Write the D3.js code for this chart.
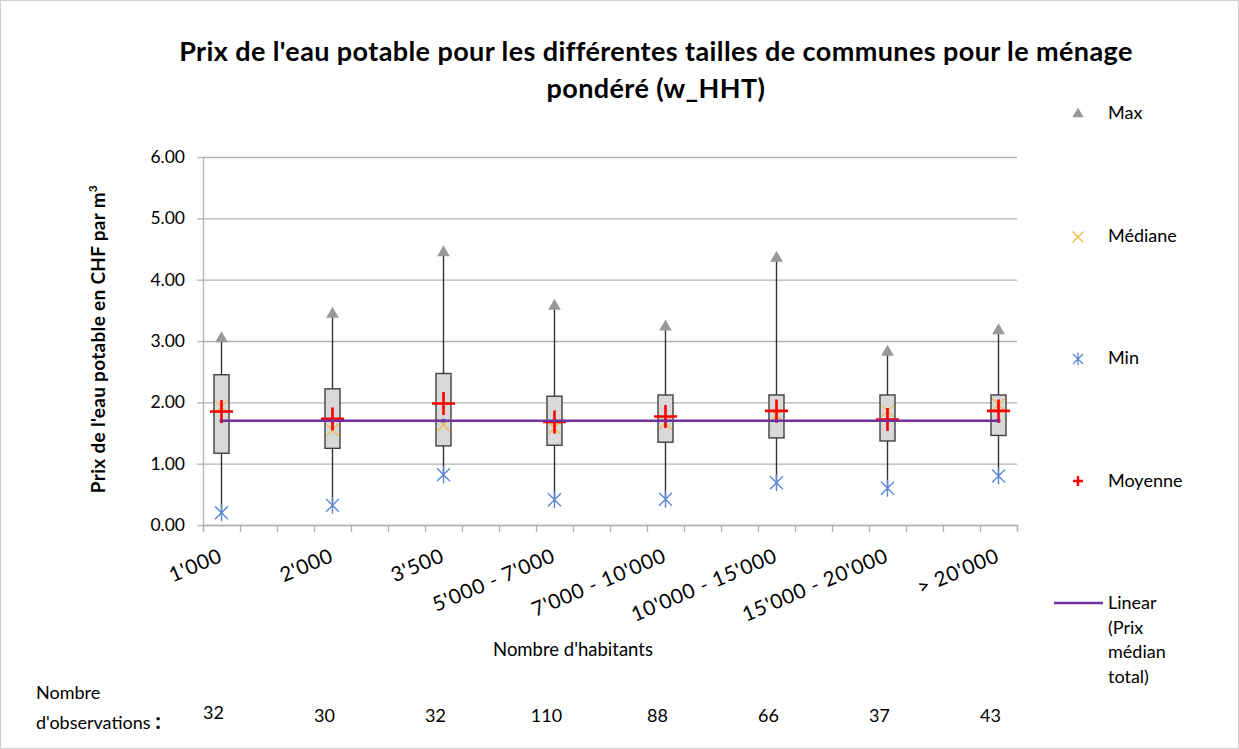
<!DOCTYPE html>
<html>
<head>
<meta charset="utf-8">
<script src="https://cdn.jsdelivr.net/npm/d3@7"></script>
<style>
  body { margin: 0; background: #fff; }
  svg text { font-family: Lato, "Noto Sans", sans-serif; fill: #000; }
</style>
</head>
<body>
<svg id="chart" width="1239" height="749"></svg>
<script>
const categories = ["1'000", "2'000", "3'500", "5'000 - 7'000", "7'000 - 10'000", "10'000 - 15'000", "15'000 - 20'000", "> 20'000"];
const maxVals = [3.04, 3.44, 4.44, 3.57, 3.23, 4.35, 2.82, 3.17];
const q3Vals = [2.45, 2.22, 2.47, 2.10, 2.12, 2.12, 2.12, 2.12];
const q1Vals = [1.17, 1.25, 1.29, 1.30, 1.35, 1.42, 1.37, 1.46];
const medianVals = [1.93, 1.55, 1.63, 1.58, 1.66, 1.79, 1.86, 1.96];
const meanVals = [1.85, 1.73, 1.98, 1.68, 1.77, 1.86, 1.72, 1.86];
const minVals = [0.20, 0.32, 0.82, 0.41, 0.42, 0.69, 0.60, 0.80];
const counts = [32, 30, 32, 110, 88, 66, 37, 43];
const medianTotal = 1.70;
const yTicks = [0, 1, 2, 3, 4, 5, 6];

const svg = d3.select("svg#chart");
const margins = { top: 157, left: 203, right: 222, bottom: 224 };
const width = 1239, height = 749;
const chartWidth = width - margins.left - margins.right;
const chartHeight = height - margins.top - margins.bottom;

const grey = "#b3b3b3";

svg.append("rect").attr("x", 0.5).attr("y", 0.5).attr("width", width - 1).attr("height", height - 1)
  .attr("fill", "#fff").attr("stroke", "#d0d0d0");

const chart = svg.append("g").attr("transform", `translate(${margins.left},${margins.top})`);

// x is a value axis 0..22, each group sits 3 units apart
const xScale = d3.scaleLinear().domain([0, 22]).range([0, chartWidth]);
const yScale = d3.scaleLinear().domain([0, 6]).range([chartHeight, 0]);
const xOf = i => xScale(i * 3 + 0.5);

// gridlines
chart.append("g").attr("class", "gridlines")
  .call(d3.axisLeft(yScale).tickValues(yTicks).tickFormat("").tickSize(-chartWidth).tickSizeOuter(0))
  .call(g => g.select(".domain").remove())
  .call(g => g.selectAll("line").attr("stroke", grey).attr("stroke-width", 1.3));

// y axis
chart.append("g").attr("class", "y axis")
  .call(d3.axisLeft(yScale).tickValues(yTicks).tickFormat(d3.format(".2f")).tickSize(6).tickSizeOuter(0).tickPadding(12))
  .call(g => g.select(".domain").attr("stroke", grey).attr("stroke-width", 1.3))
  .call(g => g.selectAll("line").attr("stroke", grey).attr("stroke-width", 1.3))
  .call(g => g.selectAll("text").attr("font-size", "17.5px").attr("fill", "#222"));

// x axis
chart.append("g").attr("class", "x axis")
  .attr("transform", `translate(0,${chartHeight})`)
  .call(d3.axisBottom(xScale).ticks(22).tickFormat("").tickSize(7).tickSizeOuter(7))
  .call(g => g.select(".domain").attr("stroke", grey).attr("stroke-width", 1.3))
  .call(g => g.selectAll("line").attr("stroke", grey).attr("stroke-width", 1.3));

// category labels
chart.append("g").selectAll("text").data(categories).enter().append("text")
  .attr("transform", (d, i) => `translate(${xOf(i) + 2},${chartHeight + 36}) rotate(-23)`)
  .attr("text-anchor", "end")
  .attr("font-size", "20.5px")
  .attr("letter-spacing", "0.7px")
  .text(d => d);

// whiskers
const groups = chart.append("g").selectAll("g").data(categories).enter().append("g");
groups.append("line")
  .attr("x1", (d, i) => xOf(i)).attr("x2", (d, i) => xOf(i))
  .attr("y1", (d, i) => yScale(maxVals[i])).attr("y2", (d, i) => yScale(minVals[i]))
  .attr("stroke", "#333").attr("stroke-width", 1.4);

// boxes
groups.append("rect")
  .attr("x", (d, i) => xOf(i) - 7.5)
  .attr("y", (d, i) => yScale(q3Vals[i]))
  .attr("width", 15)
  .attr("height", (d, i) => yScale(q1Vals[i]) - yScale(q3Vals[i]))
  .attr("fill", "#d9d9d9").attr("stroke", "#404040").attr("stroke-width", 1.4);

// max triangles
groups.append("path")
  .attr("d", d3.symbol(d3.symbolTriangle, 70))
  .attr("transform", (d, i) => `translate(${xOf(i)},${yScale(maxVals[i])})`)
  .attr("fill", "#999");

// median crosses
const cross = (s) => `M${-s},${-s}L${s},${s}M${-s},${s}L${s},${-s}`;
groups.append("path")
  .attr("d", cross(6))
  .attr("transform", (d, i) => `translate(${xOf(i)},${yScale(medianVals[i])})`)
  .attr("stroke", "#f0b93a").attr("stroke-width", 1.2).attr("fill", "none");

// min asterisks
const star = (s) => `M${-s},${-s}L${s},${s}M${-s},${s}L${s},${-s}M0,${-s * 1.3}L0,${s * 1.3}`;
groups.append("path")
  .attr("d", star(6.5))
  .attr("transform", (d, i) => `translate(${xOf(i)},${yScale(minVals[i])})`)
  .attr("stroke", "#5b86d6").attr("stroke-width", 1.4).attr("fill", "none");

// median total line
chart.append("line")
  .attr("x1", xOf(0)).attr("x2", xOf(categories.length - 1))
  .attr("y1", yScale(medianTotal)).attr("y2", yScale(medianTotal))
  .attr("stroke", "#7030a0").attr("stroke-width", 2.5);
groups.append("circle")
  .attr("cx", (d, i) => xOf(i)).attr("cy", yScale(medianTotal)).attr("r", 2.2)
  .attr("fill", "#4472c4");

// mean plus
const plus = (s) => `M${-s},0L${s},0M0,${-s}L0,${s}`;
groups.append("path")
  .attr("d", plus(11.5))
  .attr("transform", (d, i) => `translate(${xOf(i)},${yScale(meanVals[i])})`)
  .attr("stroke", "#ff0000").attr("stroke-width", 2.6).attr("fill", "none");

// titles
const title = svg.append("text").attr("x", 656).attr("y", 61).attr("text-anchor", "middle")
  .attr("font-size", "27px").attr("font-weight", "bold").attr("letter-spacing", "0.4px");
title.append("tspan").attr("x", 656).text("Prix de l'eau potable pour les différentes tailles de communes pour le ménage");
title.append("tspan").attr("x", 656).attr("dy", 37).text("pondéré (w_HHT)");

const yTitle = svg.append("text")
  .attr("transform", `translate(105,339) rotate(-90)`)
  .attr("text-anchor", "middle")
  .attr("font-size", "19px").attr("font-weight", "bold").attr("letter-spacing", "0.3px");
yTitle.append("tspan").text("Prix de l'eau potable en CHF par m");
yTitle.append("tspan").attr("dy", -8).attr("font-size", "12px").text("3");

svg.append("text").attr("x", 573).attr("y", 656).attr("text-anchor", "middle")
  .attr("font-size", "18.5px").text("Nombre d'habitants");

// legend
const lx = 1078, tx = 1108, fs = "18px";
svg.append("path").attr("d", d3.symbol(d3.symbolTriangle, 55)).attr("transform", `translate(${lx},114)`).attr("fill", "#999");
svg.append("text").attr("x", tx).attr("y", 119).attr("font-size", fs).text("Max");
svg.append("path").attr("d", cross(5.5)).attr("transform", `translate(${lx},237)`).attr("stroke", "#f0b93a").attr("stroke-width", 1.2);
svg.append("text").attr("x", tx).attr("y", 242).attr("font-size", fs).text("Médiane");
svg.append("path").attr("d", star(5)).attr("transform", `translate(${lx},359)`).attr("stroke", "#5b86d6").attr("stroke-width", 1.3);
svg.append("text").attr("x", tx).attr("y", 364).attr("font-size", fs).text("Min");
svg.append("path").attr("d", plus(5)).attr("transform", `translate(${lx},481)`).attr("stroke", "#ff0000").attr("stroke-width", 2.4);
svg.append("text").attr("x", tx).attr("y", 487).attr("font-size", fs).text("Moyenne");
svg.append("line").attr("x1", 1054).attr("x2", 1103).attr("y1", 603).attr("y2", 603).attr("stroke", "#7030a0").attr("stroke-width", 2.5);
const linText = svg.append("text").attr("x", tx).attr("y", 609).attr("font-size", fs);
["Linear", "(Prix", "médian", "total)"].forEach((t, i) => {
  linText.append("tspan").attr("x", tx).attr("dy", i === 0 ? 0 : 24.5).text(t);
});

// observation counts
svg.append("text").attr("x", 36).attr("y", 699).attr("font-size", fs).text("Nombre");
const obs = svg.append("text").attr("x", 36).attr("y", 729).attr("font-size", fs);
obs.append("tspan").text("d'observations ");
obs.append("tspan").attr("font-size", "22px").attr("font-weight", "bold").text(":");
svg.append("g").selectAll("text").data(counts).enter().append("text")
  .attr("x", (d, i) => margins.left + xOf(i) - 8)
  .attr("y", (d, i) => i === 0 ? 719 : 722)
  .attr("text-anchor", "middle")
  .attr("font-size", fs)
  .text(d => d);
</script>
</body>
</html>
